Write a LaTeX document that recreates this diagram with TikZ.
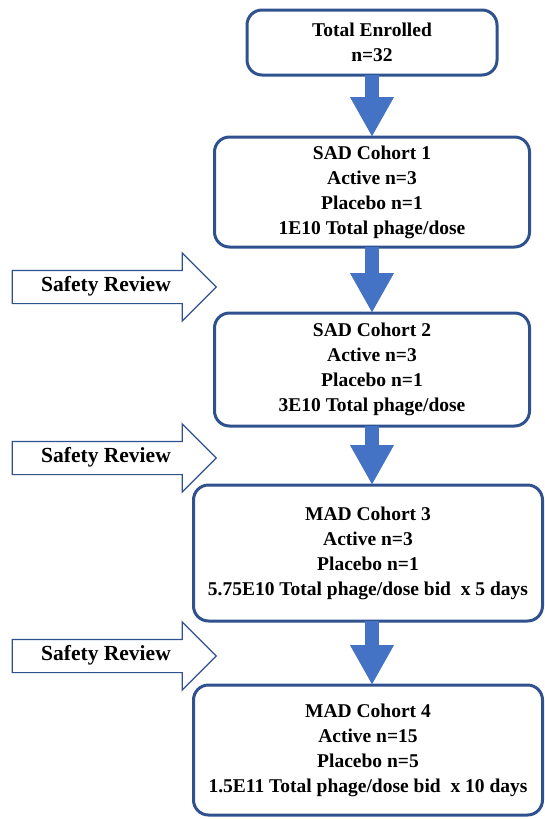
\documentclass[tikz,border=0pt]{standalone}
\usepackage{fontspec}
\setmainfont{Liberation Serif}
\usetikzlibrary{positioning,arrows.meta,shapes.arrows}

\definecolor{boxblue}{HTML}{2F528F}
\definecolor{arrowblue}{HTML}{4472C4}

\tikzset{
    cohort/.style={draw=boxblue, line width=3pt, rounded corners=15pt,
        align=center, inner sep=0pt, outer sep=0pt,
        font=\bfseries\fontsize{19.5}{25}\selectfont},
    flow/.style={draw=arrowblue, line width=14pt,
        -{Triangle[length=40pt,width=41pt]}},
    review/.style={single arrow, draw=boxblue, line width=1.2pt,
        single arrow head extend=17.5pt, minimum height=204pt,
        text height=13pt, text depth=4pt, inner ysep=7.5pt,
        font=\bfseries\fontsize{21.5}{24}\selectfont}
}

\begin{document}
\begin{tikzpicture}[x=1pt, y=-1pt]
    \useasboundingbox (0,0) rectangle (545,819);
    \node[cohort, minimum width=250pt, minimum height=65pt] (total) at (372,42.5)
        {Total Enrolled\\n=32};
    \node[cohort, minimum width=315pt, minimum height=110pt, below=62pt of total] (sad1)
        {SAD Cohort 1\\Active n=3\\Placebo n=1\\1E10 Total phage/dose};
    \node[cohort, minimum width=315pt, minimum height=113pt, below=66pt of sad1] (sad2)
        {SAD Cohort 2\\Active n=3\\Placebo n=1\\3E10 Total phage/dose};
    \node[cohort, minimum width=349pt, minimum height=136pt, below=59pt of sad2, xshift=-4pt] (mad3)
        {MAD Cohort 3\\Active n=3\\Placebo n=1\\5.75E10 Total phage/dose bid~~x 5 days};
    \node[cohort, minimum width=349pt, minimum height=130pt, below=64pt of mad3] (mad4)
        {MAD Cohort 4\\Active n=15\\Placebo n=5\\1.5E11 Total phage/dose bid~~x 10 days};
    % safety reviews between the cohorts
    \node[review] (rev1) at (106,287) {Safety Review};
    \node[review] (rev2) at (106,458) {Safety Review};
    \node[review] (rev3) at (106,656) {Safety Review};
    \draw[flow] (total.south) -- (total.south |- sad1.north);
    \draw[flow] (sad1.south) -- (sad2.north);
    \draw[flow] (sad2.south) -- (sad2.south |- mad3.north);
    \draw[flow] (sad2.south |- mad3.south) -- (sad2.south |- mad4.north);
\end{tikzpicture}
\end{document}
